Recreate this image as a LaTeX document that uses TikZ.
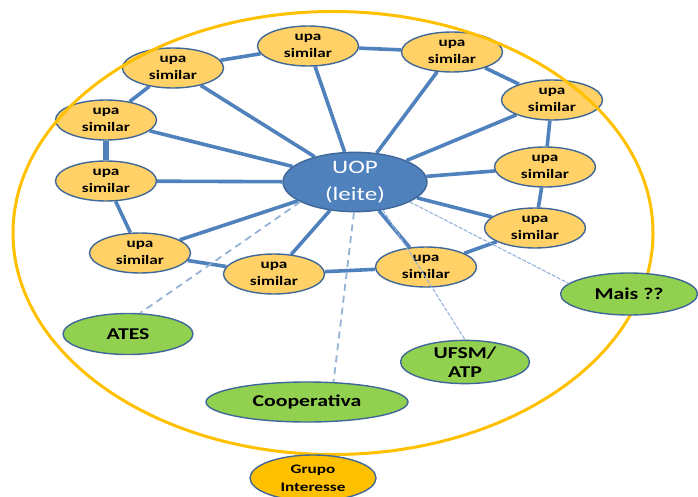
\documentclass[tikz,border=0pt]{standalone}
\usepackage{fontspec}
\newfontfamily\calib[FakeStretch=1.32]{Carlito}
\usetikzlibrary{shapes.geometric}
\definecolor{upafill}{HTML}{FFD166}
\definecolor{borda}{HTML}{3F6797}
\definecolor{verde}{HTML}{92D050}
\definecolor{ouro}{HTML}{FFC000}
\definecolor{azul}{HTML}{4F81BD}
\definecolor{claro}{HTML}{95B3D7}
\pgfdeclarelayer{fundo}
\pgfsetlayers{fundo,main}
\tikzset{
  upa/.style={ellipse, draw=borda, fill=upafill, line width=1.4pt, minimum width=101pt,
    minimum height=40pt, inner sep=0pt, align=center,
    font=\calib\bfseries\fontsize{13}{17}\selectfont},
  parceiro/.style={ellipse, draw=borda, fill=verde, line width=1.4pt, inner sep=0pt,
    align=center, font=\calib\bfseries\fontsize{16.5}{19}\selectfont},
  elo/.style={draw=azul, line width=3.6pt},
  tenue/.style={draw=claro, line width=1.8pt, dash pattern=on 7pt off 5pt},
  fino/.style={draw=claro, line width=1.1pt, dash pattern=on 4pt off 1.5pt}
}
\begin{document}
\begin{tikzpicture}[x=1pt, y=-1pt]
  \useasboundingbox (0,0) rectangle (698,497);
  % === upa similar (anel) ===
  \node[upa] (u1) at (173,68) {upa\\similar};
  \node[upa] (u2) at (308,46) {upa\\similar};
  \node[upa] (u3) at (452,52) {upa\\similar};
  \node[upa] (u4) at (552,100) {upa\\similar};
  \node[upa] (u5) at (545,167) {upa\\similar};
  \node[upa] (u6) at (535,228) {upa\\similar};
  \node[upa] (u7) at (426,267) {upa\\similar};
  \node[upa] (u8) at (274,274) {upa\\similar};
  \node[upa] (u9) at (140,253) {upa\\similar};
  \node[upa] (u10) at (106,181) {upa\\similar};
  \node[upa] (u11) at (106,120) {upa\\similar};
  % === UOP ===
  \node[ellipse, draw=borda, fill=azul, line width=1.4pt, minimum width=144pt,
    minimum height=57pt, inner sep=0pt, align=center, text=white,
    font=\calib\fontsize{19}{27}\selectfont] (uop) at (355,182) {UOP\\(leite)};
  % === ligacoes ===
  \begin{pgfonlayer}{fundo}
    \foreach \u in {u1,u2,u3,u4,u5,u6,u7,u8,u9,u10,u11}
      \draw[elo] (uop) -- (\u);
    \foreach \a/\b in {u1/u2,u2/u3,u3/u4,u4/u5,u5/u6,u6/u7,u7/u8,u8/u9,u9/u10,u11/u1}
      \draw[elo] (\a) -- (\b);
    \draw[elo, line width=6.5pt] (u10) -- (u11);
  \end{pgfonlayer}
  % === grupo (contorno) ===
  \draw[ouro, line width=3pt] (333,233) ellipse [x radius=320pt, y radius=221.5pt];
  % === parceiros ===
  \node[parceiro, minimum width=130pt, minimum height=41pt] (ates) at (128,334) {ATES};
  \node[parceiro, minimum width=202pt, minimum height=40pt] (coop) at (307,402) {Cooperativa};
  \node[parceiro, minimum width=129pt, minimum height=40pt] (ufsm) at (465,362) {UFSM/\\ATP};
  \node[parceiro, minimum width=137pt, minimum height=42pt] (mais) at (629,294) {Mais ??};
  \node[ellipse, draw=borda, fill=ouro, line width=1.4pt, minimum width=126pt,
    minimum height=46pt, inner sep=0pt, align=center,
    font=\calib\bfseries\fontsize{13}{18}\selectfont] (grupo) at (313,478) {Grupo\\Interesse};
  % === ligacoes tenues ===
  \draw[tenue] (uop.200) -- (ates.60);
  \draw[tenue] (uop.-92) -- (coop.37);
  \draw[fino] (uop.-45) -- (ufsm.north);
  \draw[fino] (uop.-20) -- (mais.170);
\end{tikzpicture}
\end{document}
